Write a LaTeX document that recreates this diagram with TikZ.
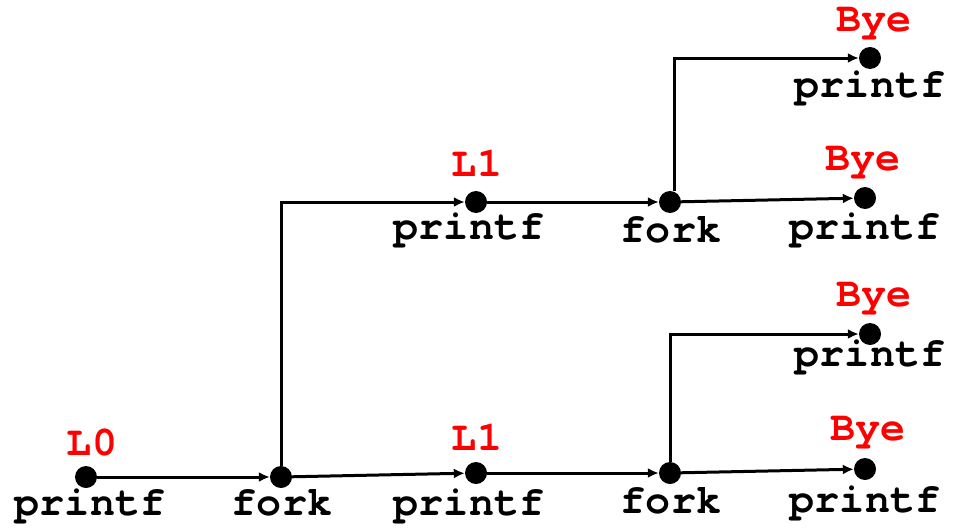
\documentclass[tikz,border=0pt]{standalone}
\usepackage{fontspec}
\setmonofont{TeX Gyre Cursor}
\usetikzlibrary{arrows.meta}
\begin{document}
\begin{tikzpicture}[x=1pt,y=-1pt,
  dot/.style={circle,fill=black,minimum size=22pt,inner sep=0pt},
  arr/.style={line width=3pt,-{Latex[length=11pt,width=10pt]}},
  txt/.style={anchor=base,inner sep=0pt,font=\fontsize{41.7}{50}\selectfont\ttfamily\bfseries},
  red/.style={txt,text={rgb,255:red,255;green,0;blue,0}}]
\useasboundingbox (0,0) rectangle (957,527);
% dots
\node[dot] (p0) at (86,477) {};
\node[dot] (f1) at (281,477) {};
\node[dot] (l1b) at (476,473) {};
\node[dot] (fb) at (670,473) {};
\node[dot] (b4) at (865,469) {};
\node[dot] (b3) at (870,334) {};
\node[dot] (l1t) at (476,202) {};
\node[dot] (ft) at (670,202) {};
\node[dot] (b2) at (865,198) {};
\node[dot] (b1) at (870,58) {};
% connectors
\draw[arr] (p0) -- (f1);
\draw[arr] (f1) -- (l1b);
\draw[arr] (l1b) -- (fb);
\draw[arr] (fb) -- (b4);
\draw[arr] (f1.north) |- (l1t);
\draw[arr] (l1t) -- (ft);
\draw[arr] (ft) -- (b2);
\draw[arr] (ft.north) ++(4,0) |- (b1);
\draw[arr] (fb.north) |- (b3);
% labels
\node[red] (t0) at (92,455) {L0};
\node[txt] (t1) at (90,515) {printf};
\node[txt] (t2) at (282,515) {fork};
\node[red] (t3) at (477,450) {L1};
\node[txt] (t4) at (469,515) {printf};
\node[txt] (t5) at (671,513) {fork};
\node[red] (t6) at (868,440) {Bye};
\node[txt] (t7) at (865,512) {printf};
\node[red] (t8) at (874,306) {Bye};
\node[txt] (t9) at (870,366) {printf};
\node[red] (t10) at (863,170) {Bye};
\node[txt] (t11) at (865,239) {printf};
\node[red] (t12) at (874,32) {Bye};
\node[txt] (t13) at (870,97) {printf};
\node[red] (t14) at (477,176) {L1};
\node[txt] (t15) at (469,239) {printf};
\node[txt] (t16) at (671,242) {fork};
\end{tikzpicture}
\end{document}
